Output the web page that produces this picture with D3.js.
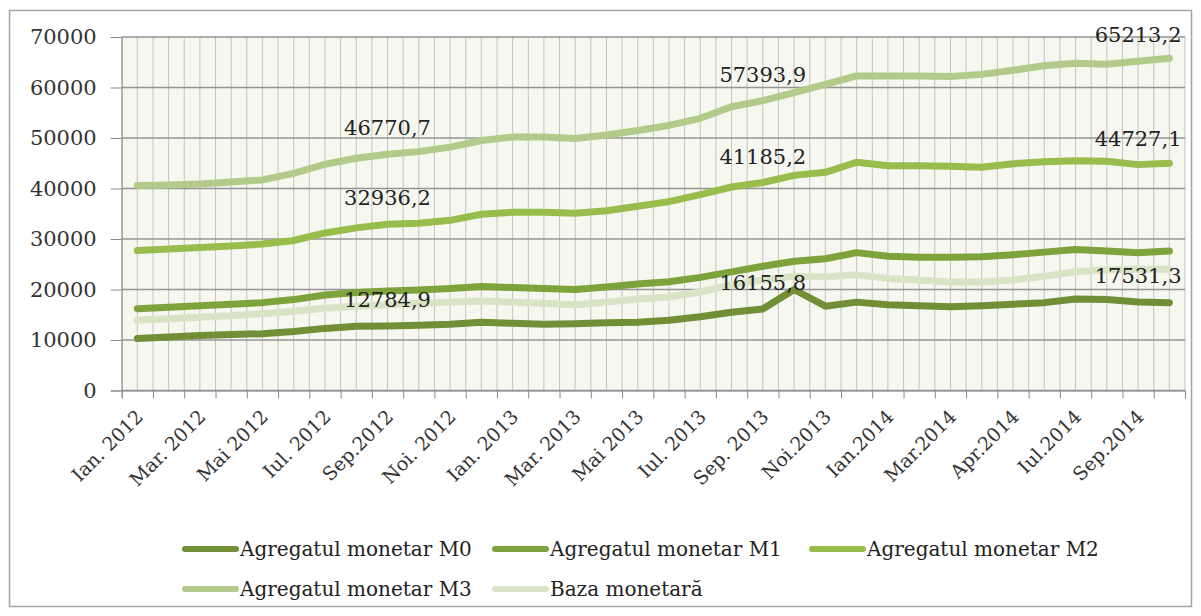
<!DOCTYPE html>
<html>
<head>
<meta charset="utf-8">
<script src="https://cdn.jsdelivr.net/npm/d3@7"></script>
<style>
body { margin: 0; background: #fff; }
svg text { font-family: "DejaVu Serif", serif; }
</style>
</head>
<body>
<svg id="chart" width="1201" height="616"></svg>
<script>
// categories (one per month), only every second one is labelled on the axis
const months = [
	"Ian. 2012", "Feb. 2012", "Mar. 2012", "Apr. 2012", "Mai 2012", "Iun. 2012",
	"Iul. 2012", "Aug. 2012", "Sep.2012", "Oct. 2012", "Noi. 2012", "Dec. 2012",
	"Ian. 2013", "Feb. 2013", "Mar. 2013", "Apr. 2013", "Mai 2013", "Iun. 2013",
	"Iul. 2013", "Aug. 2013", "Sep. 2013", "Oct. 2013", "Noi.2013", "Dec.2013",
	"Ian.2014", "Feb.2014", "Mar.2014", "Apr.2014", "Apr.2014", "Iun.2014",
	"Iul.2014", "Aug.2014", "Sep.2014", "Oct.2014"
];

const m0 = [10300, 10600, 10900, 11100, 11250, 11700, 12300, 12700, 12784.9, 12900, 13100, 13500,
	13300, 13100, 13200, 13400, 13500, 13900, 14600, 15500, 16155.8, 20000, 16700, 17500,
	17000, 16800, 16600, 16800, 17100, 17400, 18100, 18000, 17531.3, 17400];
const m1 = [16200, 16500, 16800, 17100, 17400, 18000, 18900, 19400, 19700, 19900, 20200, 20600,
	20400, 20200, 20000, 20500, 21100, 21550, 22400, 23500, 24600, 25600, 26100, 27300,
	26600, 26400, 26400, 26500, 26900, 27400, 27900, 27600, 27300, 27600];
const m2 = [27700, 28000, 28300, 28600, 29000, 29700, 31200, 32200, 32936.2, 33100, 33700, 34900,
	35300, 35300, 35100, 35600, 36500, 37400, 38800, 40300, 41185.2, 42600, 43200, 45200,
	44500, 44500, 44400, 44200, 44900, 45300, 45500, 45400, 44727.1, 45000];
const m3 = [40600, 40700, 40900, 41300, 41700, 43000, 44800, 46000, 46770.7, 47300, 48200, 49500,
	50200, 50200, 49900, 50600, 51500, 52500, 53900, 56200, 57393.9, 59000, 60600, 62300,
	62300, 62300, 62200, 62600, 63400, 64300, 64800, 64600, 65213.2, 65800];
const baza = [13900, 14200, 14500, 14800, 15200, 15700, 16300, 16700, 17000, 17300, 17500, 17700,
	17500, 17300, 17000, 17500, 18100, 18500, 19500, 20900, 21900, 22600, 22500, 22900,
	22200, 21900, 21500, 21500, 21900, 22600, 23500, 23900, 24000, 24000];

const seriesNames = ["Agregatul monetar M0", "Agregatul monetar M1", "Agregatul monetar M2",
	"Agregatul monetar M3", "Baza monetară"];
const yTicks = [0, 10000, 20000, 30000, 40000, 50000, 60000, 70000];
// months that carry value labels (Sep 2012, Sep 2013, Sep 2014)
const labelMonths = [8, 20, 32];

const series = [
	{name: seriesNames[0], values: m0, color: "#718f37", labels: true},
	{name: seriesNames[1], values: m1, color: "#7fa33c", labels: false},
	{name: seriesNames[2], values: m2, color: "#98bd4d", labels: true},
	{name: seriesNames[3], values: m3, color: "#b2ca8a", labels: true},
	{name: seriesNames[4], values: baza, color: "#d9e3c6", labels: false}
];

const svg = d3.select("#chart");

// outer frame
svg.append("rect").attr("x", 9.5).attr("y", 10.5).attr("width", 1182).attr("height", 596)
	.attr("fill", "#fff").attr("stroke", "#a3a3a3").attr("stroke-width", 1.5);

let plot = {left: 121.7, right: 1185, top: 37, bottom: 390.5};

let x = d3.scaleBand().domain(d3.range(months.length)).range([plot.left, plot.right]);
let xEdge = d3.scaleLinear().domain([0, months.length]).range([plot.left, plot.right]);
let y = d3.scaleLinear().domain([0, 70000]).range([plot.bottom, plot.top]);
let cx = i => x(i) + x.bandwidth() / 2;

svg.append("rect").attr("x", plot.left).attr("y", plot.top)
	.attr("width", plot.right - plot.left).attr("height", plot.bottom - plot.top)
	.attr("fill", "#f6f7ee");

// vertical grid, every half month
svg.append("g").selectAll("line")
	.data(d3.range(0, months.length + 0.01, 0.5))
	.join("line")
	.attr("x1", d => xEdge(d)).attr("x2", d => xEdge(d))
	.attr("y1", plot.top).attr("y2", plot.bottom)
	.attr("stroke", "#c4c4c0").attr("stroke-width", 1);

// horizontal grid
svg.append("g").selectAll("line")
	.data(yTicks)
	.join("line")
	.attr("x1", plot.left).attr("x2", plot.right)
	.attr("y1", d => y(d)).attr("y2", d => y(d))
	.attr("stroke", "#959595").attr("stroke-width", 1.3);

// y axis
let yAxis = svg.append("g")
	.attr("transform", `translate(${plot.left},0)`)
	.call(d3.axisLeft(y).tickValues(yTicks).tickSize(11).tickPadding(14).tickFormat(d3.format("d")));
yAxis.selectAll("text").attr("font-size", 21).attr("fill", "#333").attr("font-family", "DejaVu Serif");
yAxis.selectAll("line, path").attr("stroke", "#8a8a8a");

// x axis ticks at month boundaries
let xAxis = svg.append("g")
	.attr("transform", `translate(0,${plot.bottom})`)
	.call(d3.axisBottom(xEdge).tickValues(d3.range(months.length + 1)).tickSize(8).tickFormat(""));
xAxis.selectAll("line, path").attr("stroke", "#8a8a8a");

// x labels, every second month, rotated
svg.append("g").selectAll("text")
	.data(d3.range(0, months.length, 2))
	.join("text")
	.attr("transform", i => `translate(${cx(i) + 7},418) rotate(-45)`)
	.attr("text-anchor", "end")
	.attr("font-size", 19)
	.attr("fill", "#333")
	.text(i => months[i]);

// lines
let line = d3.line()
	.x((d, i) => cx(i))
	.y(d => y(d));

svg.append("g").selectAll("path")
	.data(series)
	.join("path")
	.attr("fill", "none")
	.attr("stroke", d => d.color)
	.attr("stroke-width", 7)
	.attr("stroke-linecap", "round")
	.attr("stroke-linejoin", "round")
	.attr("d", d => line(d.values));

// value labels
let fmt = v => v.toFixed(1).replace(".", ",");
series.filter(s => s.labels).forEach(function(s) {
	svg.append("g").selectAll("text")
		.data(labelMonths)
		.join("text")
		.attr("x", i => cx(i))
		.attr("y", i => y(s.values[i]) - 19)
		.attr("text-anchor", "middle")
		.attr("font-size", 21)
		.attr("fill", "#222")
		.text(i => fmt(s.values[i]));
});

// legend
let legendPos = [[183, 549], [493, 549], [810, 549], [183, 589], [493, 589]];
let legend = svg.append("g").selectAll("g")
	.data(series)
	.join("g")
	.attr("transform", (d, i) => `translate(${legendPos[i][0]},${legendPos[i][1]})`);
legend.append("line")
	.attr("x1", 2).attr("x2", 53)
	.attr("stroke", d => d.color).attr("stroke-width", 6).attr("stroke-linecap", "round");
legend.append("text")
	.attr("x", 57).attr("dy", "0.35em")
	.attr("font-size", 20)
	.attr("fill", "#222")
	.text(d => d.name);
</script>
</body>
</html>
